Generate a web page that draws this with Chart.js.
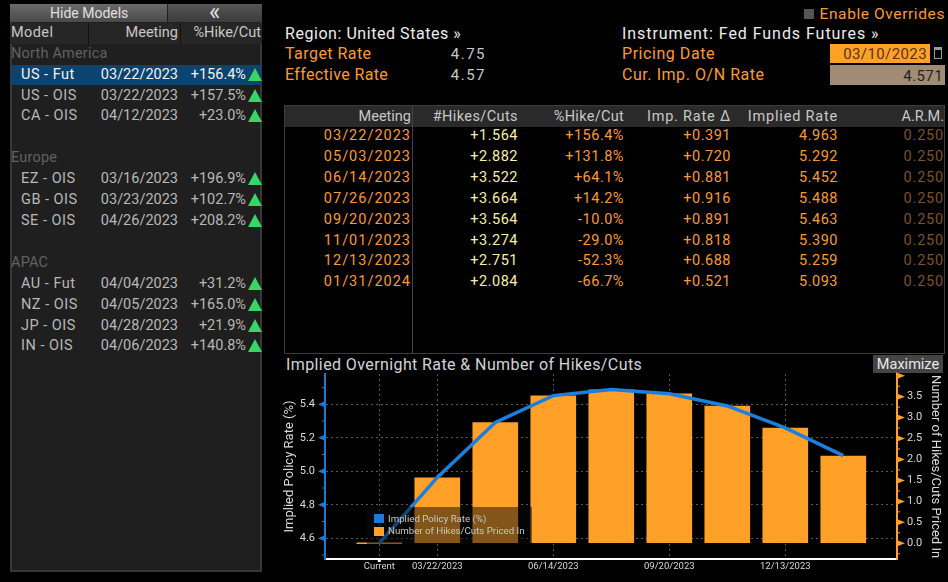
<!DOCTYPE html>
<html>
<head>
<meta charset="utf-8">
<title>Implied Overnight Rate</title>
<script src="https://cdn.jsdelivr.net/npm/chart.js@4/dist/chart.umd.js"></script>
<style>
  html, body { margin: 0; background: #000; width: 948px; height: 582px; overflow: hidden; font-family: Roboto, sans-serif; }
  .box { position: absolute; box-sizing: border-box; }
  .txt { position: absolute; white-space: nowrap; font-size: 14.5px; line-height: 18px; height: 18px; }
  canvas { position: absolute; left: 280px; top: 367px; }
</style>
</head>
<body>
<div id="page"></div>
<canvas id="rateChart" width="668" height="215"></canvas>
<script>
// chart data
const xLabels = ['Current', '03/22/2023', '05/03/2023', '06/14/2023', '07/26/2023', '09/20/2023', '11/01/2023', '12/13/2023', '01/31/2024']
const xTickIndexes = [0, 1, 3, 5, 7]
const policyRates = [4.571, 4.963, 5.292, 5.452, 5.488, 5.463, 5.390, 5.259, 5.093]
const hikesPriced = [0, 1.564, 2.882, 3.522, 3.664, 3.564, 3.274, 2.751, 2.084]
const leftTicks = [4.6, 4.8, 5.0, 5.2, 5.4]
const leftMinor = [4.5, 4.7, 4.9, 5.1, 5.3, 5.5]
const rightTicks = [0, 0.5, 1, 1.5, 2, 2.5, 3, 3.5]
const rightMarkers = [0, 0.5, 1, 1.5, 2, 2.5, 3, 3.5, 4]
const rightMinor = [-0.25, 0.25, 0.75, 1.25, 1.75, 2.25, 2.75, 3.25, 3.75]

// table data
const meetings = ['03/22/2023', '05/03/2023', '06/14/2023', '07/26/2023', '09/20/2023', '11/01/2023', '12/13/2023', '01/31/2024']
const hikesCuts = ['+1.564', '+2.882', '+3.522', '+3.664', '+3.564', '+3.274', '+2.751', '+2.084']
const pctHikeCut = ['+156.4%', '+131.8%', '+64.1%', '+14.2%', '-10.0%', '-29.0%', '-52.3%', '-66.7%']
const impRateDelta = ['+0.391', '+0.720', '+0.881', '+0.916', '+0.891', '+0.818', '+0.688', '+0.521']
const impliedRates = ['4.963', '5.292', '5.452', '5.488', '5.463', '5.390', '5.259', '5.093']
const arm = ['0.250', '0.250', '0.250', '0.250', '0.250', '0.250', '0.250', '0.250']

// side panel data
const sideSections = [['North America', 53], ['Europe', 157], ['APAC', 262]]
const sideNames = ['US - Fut', 'US - OIS', 'CA - OIS', 'EZ - OIS', 'GB - OIS', 'SE - OIS', 'AU - Fut', 'NZ - OIS', 'JP - OIS', 'IN - OIS']
const sideDates = ['03/22/2023', '03/22/2023', '04/12/2023', '03/16/2023', '03/23/2023', '04/26/2023', '04/04/2023', '04/05/2023', '04/28/2023', '04/06/2023']
const sidePcts = ['+156.4%', '+157.5%', '+23.0%', '+196.9%', '+102.7%', '+208.2%', '+31.2%', '+165.0%', '+21.9%', '+140.8%']
const sideRowY = [74, 95, 115, 178, 199, 220, 283, 304, 325, 345]

const orange = '#fb9a33'
const page = document.getElementById('page')

function addBox(x, y, w, h, css) {
  const el = document.createElement('div')
  el.className = 'box'
  el.style.cssText = `left:${x}px;top:${y}px;width:${w}px;height:${h}px;${css}`
  page.appendChild(el)
  return el
}

function addText(x, y, str, color, align, size, spacing) {
  const el = document.createElement('div')
  el.className = 'txt'
  el.textContent = str
  el.style.top = (y - 8) + 'px'
  el.style.color = color
  if (size) el.style.fontSize = size + 'px'
  if (spacing) el.style.letterSpacing = spacing + 'px'
  if (align === 'right') el.style.right = (948 - x) + 'px'
  else el.style.left = x + 'px'
  page.appendChild(el)
  return el
}

// side panel
addBox(10, 4, 252, 568, 'background:#1f1f1f;border:2px solid #383838;border-top:none')
addBox(10, 4, 157, 18, 'background:linear-gradient(#6a6a6a,#4a4a4a)')
addBox(168, 4, 94, 18, 'background:linear-gradient(#555,#3c3c3c)')
addBox(10, 23, 252, 21, 'background:#262626')
addBox(88, 23, 1, 21, 'background:#111')
addBox(180, 23, 1, 21, 'background:#111')
addText(50, 12, 'Hide Models', '#e0e0e0', 'left', 14)
addText(209, 11, '«', '#e0e0e0', 'left', 24)
addText(11, 32, 'Model', '#c8c8c8', 'left', 14.5, 0.4)
addText(178, 32, 'Meeting', '#c8c8c8', 'right')
addText(261, 32, '%Hike/Cut', '#c8c8c8', 'right')
addBox(11, 65, 250, 20, 'background:#0d436f')
sideSections.forEach(s => addText(11, s[1], s[0], '#626262', 'left', 14.5, 0.2))
sideNames.forEach((name, i) => {
  const color = i === 0 ? '#f2f2f2' : '#b8b8b8'
  addText(21, sideRowY[i], name, color, 'left', 14.5, 0.5)
  addText(178, sideRowY[i], sideDates[i], color, 'right')
  addText(246, sideRowY[i], sidePcts[i], color, 'right')
  addBox(248, sideRowY[i] - 6, 14, 13, 'background:#37d667;clip-path:polygon(50% 0,100% 100%,0 100%)')
})

// top info block
addBox(804, 9, 10, 10, 'background:#555')
addText(945, 13, 'Enable Overrides', orange, 'right', 15.5, 0.6)
addText(285, 33, 'Region: United States »', '#ececec', 'left', 16, 0.55)
addText(285, 53, 'Target Rate', orange, 'left', 16, 0.45)
addText(285, 74, 'Effective Rate', orange, 'left', 16, 0.35)
addText(486, 53, '4.75', '#c8c8c8', 'right', 15, 1.5)
addText(486, 74, '4.57', '#c8c8c8', 'right', 15, 1.5)
addText(622, 33, 'Instrument: Fed Funds Futures »', '#ececec', 'left', 16, 0.95)
addText(622, 53, 'Pricing Date', orange, 'left', 16, 0.55)
addText(622, 74, 'Cur. Imp. O/N Rate', orange, 'left', 16, 0.55)
addBox(830, 44, 100, 19, 'background:#ffa028')
addText(927, 53, '03/10/2023', '#5a3208', 'right', 15, 0.4)
addBox(934, 47, 8, 12, 'border:1px solid #999;border-top:3px solid #999')
addBox(830, 65, 115, 20, 'background:#a08c75')
addText(943, 75, '4.571', '#222', 'right', 15, 0.4)

// meetings table
addBox(284, 105, 661, 249, 'border:1px solid #3c3c3c')
addBox(285, 106, 659, 21, 'background:#2a2a2a')
addBox(412, 106, 1, 247, 'background:#444')
const columnRight = [411, 518, 624, 731, 838, 944]
const columnHeads = ['Meeting', '#Hikes/Cuts', '%Hike/Cut', 'Imp. Rate Δ', 'Implied Rate', 'A.R.M.']
const columnColors = [orange, '#f6f0a6', orange, orange, orange, '#7c5228']
const columnSpacing = [0, 0.4, 0.3, 0.8, 0.8, 0]
const valueSpacing = [1, 0.5, 0.5, 0.5, 0.5, 0.8]
const columns = [meetings, hikesCuts, pctHikeCut, impRateDelta, impliedRates, arm]
const rowY = [135, 156, 177, 198, 219, 240, 260, 281]
columnHeads.forEach((head, c) => {
  addText(columnRight[c], 116, head, '#c8c8c8', 'right', 14.5, columnSpacing[c])
  columns[c].forEach((val, r) => addText(columnRight[c], rowY[r], val, columnColors[c], 'right', 14.5, valueSpacing[c]))
})

// chart header
addText(286, 364, 'Implied Overnight Rate & Number of Hikes/Cuts', '#d0d4d8', 'left', 16, 0.4)
addBox(873, 355, 70, 18, 'background:#444')
addText(908, 364, 'Maximize', '#e8e8e8').style.transform = 'translateX(-50%)'

const rateLabel = 'Implied Policy Rate (%)'
const hikesLabel = 'Number of Hikes/Cuts Priced In'

// small triangles and minor ticks on the two value axes, white tick under Current
const axisMarks = {
  id: 'axisMarks',
  afterDraw(chart) {
    const c = chart.ctx
    const yL = chart.scales.yLeft
    const yR = chart.scales.yRight
    const x = chart.scales.x
    const area = chart.chartArea
    c.save()
    c.fillStyle = '#1a7ad6'
    leftTicks.forEach(v => {
      const p = yL.getPixelForValue(v)
      c.beginPath()
      c.moveTo(area.left - 7, p)
      c.lineTo(area.left + 1, p - 3.5)
      c.lineTo(area.left + 1, p + 3.5)
      c.fill()
    })
    leftMinor.forEach(v => c.fillRect(area.left - 3, yL.getPixelForValue(v) - 0.5, 3, 1))
    c.fillStyle = '#ffa028'
    rightMarkers.forEach(v => {
      const p = yR.getPixelForValue(v)
      c.beginPath()
      c.moveTo(area.right + 8, p)
      c.lineTo(area.right - 1, p - 3.5)
      c.lineTo(area.right - 1, p + 3.5)
      c.fill()
    })
    rightMinor.forEach(v => c.fillRect(area.right, yR.getPixelForValue(v) - 0.5, 3, 1))
    c.fillStyle = '#fff'
    c.fillRect(x.getPixelForValue(0) - 1.5, area.bottom, 3, 3)
    c.restore()
  }
}

new Chart(document.getElementById('rateChart').getContext('2d'), {
  data: {
    datasets: [
      {
        type: 'line',
        label: rateLabel,
        data: policyRates.map((v, i) => ({ x: i, y: v })),
        yAxisID: 'yLeft',
        borderColor: '#1b7fe0',
        borderWidth: 3.5,
        tension: 0,
        pointRadius: 0,
        order: 0
      },
      {
        type: 'bar',
        label: hikesLabel,
        data: hikesPriced.map((v, i) => ({ x: i, y: v })),
        yAxisID: 'yRight',
        backgroundColor: '#ffa028',
        barThickness: 45,
        minBarLength: 1,
        order: 1
      }
    ]
  },
  options: {
    responsive: false,
    animation: false,
    layout: { padding: { top: 7 } },
    plugins: { legend: { display: false }, tooltip: { enabled: false } },
    scales: {
      x: {
        type: 'linear',
        bounds: 'data',
        offset: false,
        min: -0.936,
        max: 8.926,
        afterBuildTicks: scale => { scale.ticks = xTickIndexes.map(v => ({ value: v })) },
        afterFit: scale => { scale.height = 23 },
        ticks: {
          callback: v => xLabels[v],
          color: '#d8d8d8',
          font: { family: 'Roboto', size: 9.5 },
          padding: 2,
          maxRotation: 0,
          autoSkip: false
        },
        grid: { color: '#5a5a5a', offset: false, drawTicks: false },
        border: { color: '#fff', width: 2, dash: [2, 3] }
      },
      yLeft: {
        position: 'left',
        bounds: 'data',
        min: 4.476,
        max: 5.581,
        afterBuildTicks: scale => { scale.ticks = leftTicks.map(v => ({ value: v })) },
        afterFit: scale => { scale.width = 45 },
        ticks: {
          callback: v => v.toFixed(1),
          color: '#d8d8d8',
          font: { family: 'Roboto', size: 11 },
          padding: 0
        },
        title: { display: true, text: rateLabel, color: '#d8d8d8', font: { family: 'Roboto', size: 13 }, padding: 2 },
        grid: { color: '#5a5a5a', tickLength: 10, tickColor: 'transparent' },
        border: { color: '#1a7ad6', width: 2, dash: [2, 3] }
      },
      yRight: {
        position: 'right',
        bounds: 'data',
        min: -0.375,
        max: 4.04,
        afterBuildTicks: scale => { scale.ticks = rightTicks.map(v => ({ value: v })) },
        afterFit: scale => { scale.width = 51 },
        ticks: {
          callback: v => v.toFixed(1),
          color: '#d8d8d8',
          font: { family: 'Roboto', size: 11 },
          padding: 0
        },
        title: { display: true, text: hikesLabel, color: '#d8d8d8', font: { family: 'Roboto', size: 13 }, padding: 5 },
        grid: { display: true, drawOnChartArea: false, tickLength: 10, tickColor: 'transparent' },
        border: { color: '#ffa028', width: 2 }
      }
    }
  },
  plugins: [axisMarks]
})

// legend sits over the plot
addBox(367, 507, 165, 37, 'background:rgba(10,10,10,0.5);z-index:2')
addBox(374, 514, 10, 9, 'background:#1a7ad6;z-index:3')
addBox(374, 527, 10, 9, 'background:#ffa028;z-index:3')
addText(388, 518, rateLabel, '#c8c8c8', 'left', 9.7).style.zIndex = 3
addText(388, 530, hikesLabel, '#c8c8c8', 'left', 9.7).style.zIndex = 3
</script>
</body>
</html>
